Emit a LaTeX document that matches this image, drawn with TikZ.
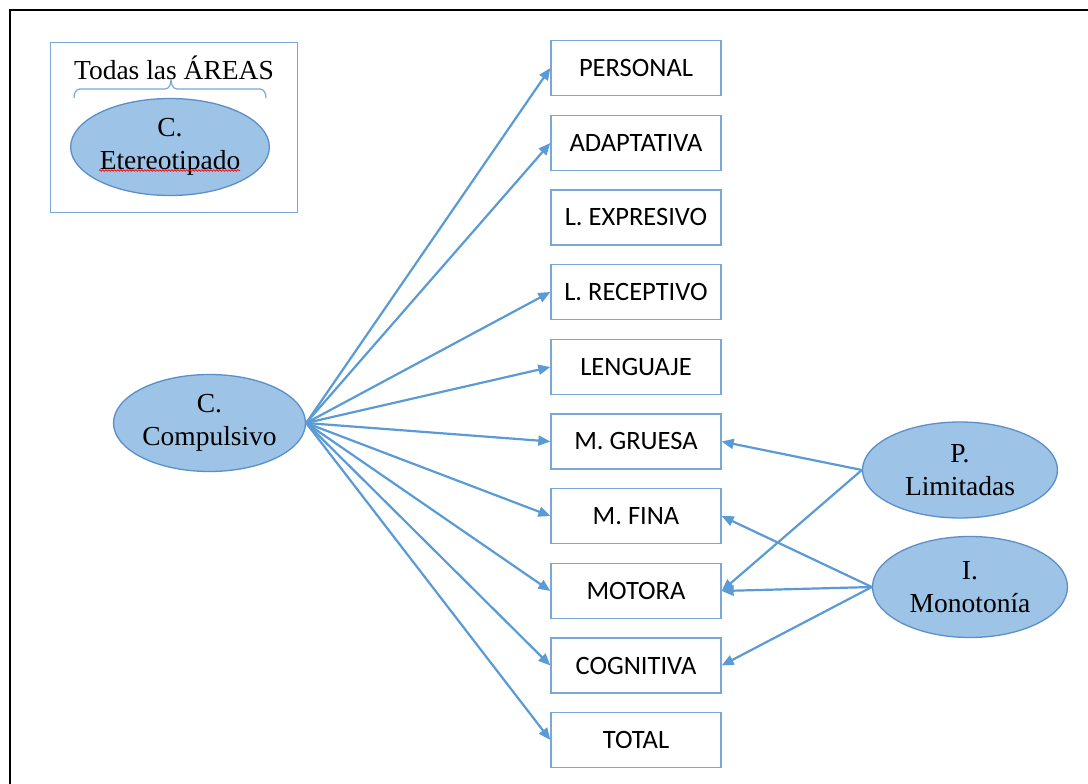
\documentclass[tikz,border=0pt]{standalone}
\usepackage{fontspec}
\setmainfont{Liberation Serif}
\newfontfamily\boxfont{Carlito}
\usetikzlibrary{arrows.meta,shapes.geometric,decorations.pathmorphing}
\definecolor{ellfill}{HTML}{9DC3E6}
\definecolor{ellline}{HTML}{5B8FC9}
\definecolor{arrowblue}{HTML}{5B9BD5}
\definecolor{boxline}{HTML}{7AA7DA}
\begin{document}
\begin{tikzpicture}[x=1pt,y=-1pt,
  areabox/.style={draw=boxline, line width=1.3pt, fill=white, minimum width=170pt,
    minimum height=55pt, inner sep=0pt, font=\boxfont\fontsize{26.5}{30}\selectfont},
  factor/.style={ellipse, draw=ellline, fill=ellfill, line width=1.3pt, inner sep=0pt,
    minimum width=192pt, minimum height=97pt, align=center,
    font=\fontsize{27.5}{33}\selectfont},
  link/.style={draw=arrowblue, line width=2.2pt, -{Triangle[length=12pt,width=10pt]}}]

\useasboundingbox (0,0) rectangle (1088,784);
\fill[white] (0,0) rectangle (1088,784);
\draw[line width=2pt] (10,790) -- (10,10) -- (1095,10);

% legend frame
\node[draw=boxline, line width=1.3pt, minimum width=247pt, minimum height=170pt,
  inner sep=0pt] (legend) at (174.2,127.7) {};
\node[anchor=base, font=\fontsize{27.5}{33}\selectfont] (todas) at (174,80) {Todas las ÁREAS};
\draw[draw=boxline, line width=1.2pt]
  (74,98) to[out=90,in=180] (80,89) -- (165,89) to[out=0,in=-90] (171,79)
  to[out=-90,in=180] (177,89) -- (260,89) to[out=0,in=90] (266,98);
\node[factor] (ce) at (170,147) {C.\\Etereotipado};
\draw[red, line width=0.7pt, decorate,
  decoration={snake, amplitude=0.8pt, segment length=3pt}] (99,170.5) -- (240,170.5);

% area boxes
\node[areabox] (per)  at (636,68)    {PERSONAL};
\node[areabox] (ada)  at (636,143)   {ADAPTATIVA};
\node[areabox] (lex)  at (636,217.5) {L. EXPRESIVO};
\node[areabox] (lrec) at (636,292)   {L. RECEPTIVO};
\node[areabox] (len)  at (636,367)   {LENGUAJE};
\node[areabox] (mg)   at (636,441.5) {M. GRUESA};
\node[areabox] (mf)   at (636,516)   {M. FINA};
\node[areabox] (mot)  at (636,591)   {MOTORA};
\node[areabox] (cog)  at (636,665.5) {COGNITIVA};
\node[areabox] (tot)  at (636,740)   {TOTAL};

% factors
\node[factor] (cc) at (209.5,423) {C.\\Compulsivo};
\node[factor, minimum width=195pt, minimum height=96pt] (pl) at (960,470) {P.\\Limitadas};
\node[factor, minimum width=195pt, minimum height=101pt] (im) at (970,587) {I.\\Monotonía};

% connectors
\foreach \t in {per,ada,lrec,len,mg,mf,mot,cog,tot}
  \draw[link] (cc.east) -- (\t.west);
\foreach \t in {mg,mot}
  \draw[link] (pl.west) -- (\t.east);
\foreach \t in {mf,mot,cog}
  \draw[link] (im.west) -- (\t.east);
\end{tikzpicture}
\end{document}
